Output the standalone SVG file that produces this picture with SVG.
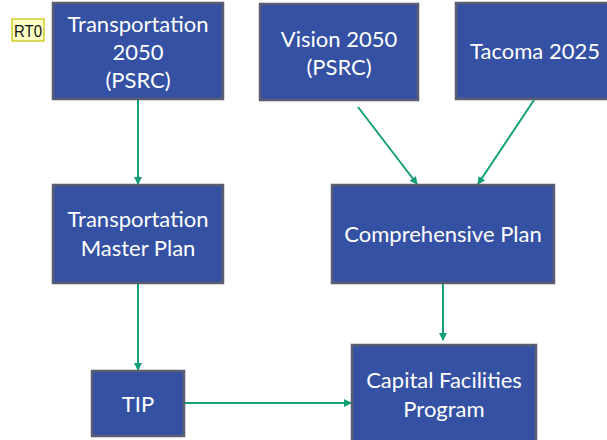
<svg xmlns="http://www.w3.org/2000/svg" width="607" height="440" viewBox="0 0 607 440">
<style>
.box{fill:#3551a3;stroke:#5a5e70;stroke-width:2.5}
.lbl{fill:#ffffff;font-family:Lato,"Open Sans",sans-serif;font-size:22px;text-anchor:middle}
.edge{stroke:#14a077;stroke-width:2;fill:none;marker-end:url(#ah)}
.tag{fill:#ffffc4;stroke:#c4c000;stroke-width:1.2}
.tagt{fill:#111;font-family:"Liberation Sans",Arial,sans-serif;font-size:17px}
</style>
<defs>
<marker id="ah" markerWidth="8" markerHeight="8" refX="7" refY="4" orient="auto" markerUnits="userSpaceOnUse">
<path d="M0,0 L8,4 L0,8 Z" fill="#14a077"/>
</marker>
</defs>
<rect width="607" height="440" fill="#ffffff"/>
<g id="connectors">
<line class="edge" x1="138" y1="100" x2="138" y2="184"/>
<line class="edge" x1="358" y1="107" x2="417" y2="184"/>
<line class="edge" x1="534" y1="100" x2="478" y2="184"/>
<line class="edge" x1="138" y1="284" x2="138" y2="370"/>
<line class="edge" x1="443" y1="284" x2="443" y2="340"/>
<line class="edge" x1="185" y1="403" x2="351" y2="403"/>
</g>
<g id="rt0">
<rect class="tag" x="12" y="19" width="32" height="22"/>
<text class="tagt" x="14" y="36.5" textLength="28" lengthAdjust="spacingAndGlyphs">RT0</text>
</g>
<g id="transportation2050">
<rect class="box" x="53" y="3" width="170" height="96"/>
<text class="lbl" x="138" y="32">Transportation</text>
<text class="lbl" x="138" y="60">2050</text>
<text class="lbl" x="138" y="88">(PSRC)</text>
</g>
<g id="vision2050">
<rect class="box" x="260" y="4" width="158" height="96"/>
<text class="lbl" x="339" y="47">Vision 2050</text>
<text class="lbl" x="339" y="75">(PSRC)</text>
</g>
<g id="tacoma2025">
<rect class="box" x="456" y="3" width="158" height="96"/>
<text class="lbl" x="535" y="59">Tacoma 2025</text>
</g>
<g id="transportationMasterPlan">
<rect class="box" x="53" y="185" width="170" height="98"/>
<text class="lbl" x="138" y="227">Transportation</text>
<text class="lbl" x="138" y="256">Master Plan</text>
</g>
<g id="comprehensivePlan">
<rect class="box" x="332" y="185" width="222" height="98"/>
<text class="lbl" x="443" y="242">Comprehensive Plan</text>
</g>
<g id="tip">
<rect class="box" x="92" y="371" width="92" height="65"/>
<text class="lbl" x="138" y="412">TIP</text>
</g>
<g id="capitalFacilitiesProgram">
<rect class="box" x="352" y="345" width="184" height="100"/>
<text class="lbl" x="444" y="388">Capital Facilities</text>
<text class="lbl" x="444" y="417">Program</text>
</g>
</svg>
